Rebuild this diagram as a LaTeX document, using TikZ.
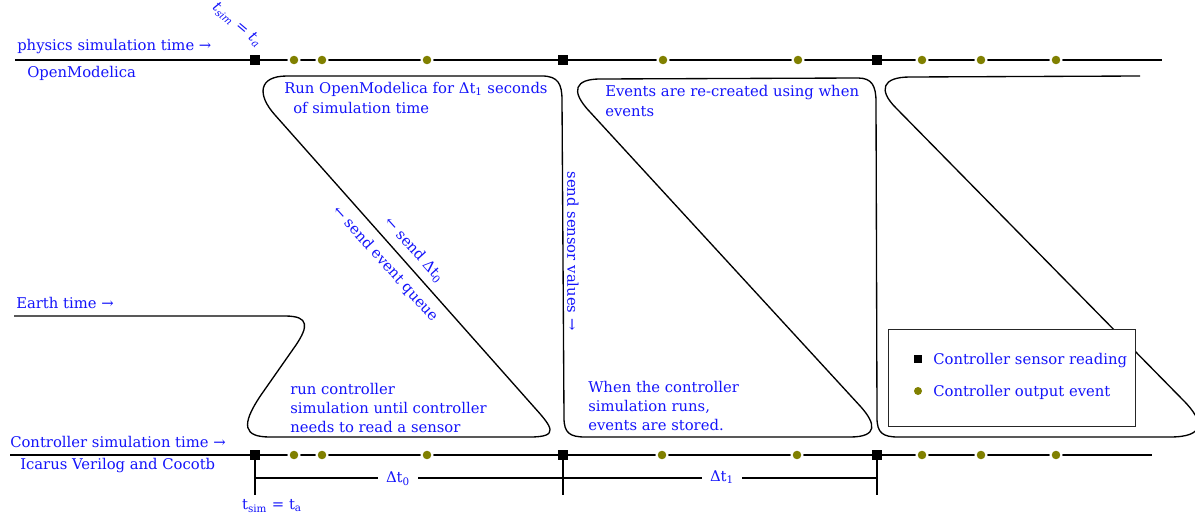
\documentclass[tikz,border=0pt]{standalone}
\usepackage{fontspec}
\setmainfont{DejaVu Serif}
\definecolor{txtblue}{RGB}{20,20,250}
\definecolor{evolive}{RGB}{128,128,0}
\begin{document}
\begin{tikzpicture}[x=0.75pt,y=-0.75pt,
  every node/.style={font=\fontsize{11.1}{13.9}\selectfont},
  lbl/.style={text=txtblue,inner sep=0pt,anchor=west},
  clbl/.style={text=txtblue,inner sep=0pt},
  timeline/.style={line width=2.2pt},
  sensor/.style={fill=black,draw=none,minimum size=7.5pt,inner sep=0pt,rectangle},
  evt/.style={circle,fill=evolive,draw=white,line width=1.5pt,minimum size=8.25pt,inner sep=0pt},
  legsensor/.style={fill=black,draw=none,minimum size=6pt,inner sep=0pt,rectangle},
  legevt/.style={circle,fill=evolive,draw=none,minimum size=6pt,inner sep=0pt},
  curve/.style={line width=1pt,line join=round},
  thinline/.style={line width=0.8pt},
  dimlbl/.style={text=txtblue,fill=white,inner xsep=6pt,inner ysep=2pt},
  legendbox/.style={draw=black!85,fill=white,line width=0.8pt,inner sep=0pt,anchor=north west}
]
\useasboundingbox (0,0) rectangle (1195,517);

% timelines
\coordinate (tl) at (15,60); \coordinate (tr) at (1162,60);
\coordinate (bl) at (10,455); \coordinate (br) at (1152,455);
\draw[timeline] (tl) -- (tr);
\draw[timeline] (bl) -- (br);

% ticks and dimension line (below controller line)
\coordinate (k1) at (255,495); \coordinate (k2) at (563,495); \coordinate (k3) at (877,495);
\coordinate (m0) at (255,478); \coordinate (m1) at (877,478);
\coordinate (j1) at (255,455); \coordinate (j2) at (563,455); \coordinate (j3) at (877,455);
\draw[thinline] (j1) -- (k1);
\draw[thinline] (j2) -- (k2);
\draw[thinline] (j3) -- (k3);
\draw[thinline] (m0) -- (m1);
\node[dimlbl] (dt0) at (398,479) {Δt\textsubscript{0}};
\node[dimlbl] (dt1) at (722,477) {Δt\textsubscript{1}};

% sensor readings
\foreach \x/\n in {255/1,563/2,877/3} {
  \node[sensor] (st\n) at (\x,60) {};
  \node[sensor] (sb\n) at (\x,455) {};
}
% output events
\foreach \x/\n in {294/1,322/2,427/3,663/4,798/5,922/6,981/7,1056/8} {
  \node[evt] (et\n) at (\x,60) {};
}
\foreach \x/\n in {294/1,322/2,427/3,662/4,797/5,922/6,981/7,1056/8} {
  \node[evt] (eb\n) at (\x,455) {};
}

% Earth time curve
\coordinate (e0) at (14,316);
\coordinate (e1) at (1140,76);
\draw[curve] (e0) -- (285,316)
  .. controls (310,316) and (308,327) .. (296,345)
  -- (261,395)
  .. controls (240,426) and (244,437) .. (270,437)
  -- (530,437)
  .. controls (560,437) and (552,427) .. (534,407)
  -- (275,115)
  .. controls (257,95) and (258,76) .. (287,76)
  -- (542,76)
  .. controls (558,76) and (562,84) .. (562,100)
  -- (564,418)
  .. controls (564,433) and (570,437) .. (585,437)
  -- (850,437)
  .. controls (878,437) and (876,424) .. (861,407)
  -- (590,112)
  .. controls (569,90) and (576,79) .. (600,79)
  -- (858,78)
  .. controls (872,78) and (876,86) .. (876,102)
  -- (877,418)
  .. controls (877,433) and (883,437) .. (898,437)
  -- (1170,437)
  .. controls (1205,437) and (1205,422) .. (1183,400)
  -- (896,108)
  .. controls (878,90) and (882,77) .. (910,77)
  -- (e1);

% legend
\node[legendbox,minimum width=185.25pt,minimum height=72.75pt] (legend) at (888,329) {};
\node[legsensor] (ls) at (918,359) {};
\node[legevt] (le) at (918,391) {};
\node[lbl] (lst) at (933,361) {Controller sensor reading};
\node[lbl] (let) at (933,392) {Controller output event};

% axis labels
\node[lbl] (phys) at (17,47) {physics simulation time →};
\node[lbl] (om) at (27,73) {OpenModelica};
\node[lbl] (earth) at (16,303) {Earth time →};
\node[lbl] (ctrl) at (10,442) {Controller simulation time →};
\node[lbl] (icarus) at (20,466) {Icarus Verilog and Cocotb};
\node[clbl,rotate=-40] (tst) at (237,25) {\textit{t}\textsubscript{\textit{sim}} = \textit{t}\textsubscript{\textit{a}}};
\node[clbl] (tsb) at (272,506) {t\textsubscript{sim} = t\textsubscript{a}};

% step texts
\node[lbl] (run1) at (284,89) {Run OpenModelica for Δt\textsubscript{1} seconds};
\node[lbl] (run2) at (293,108) {of simulation time};
\node[lbl] (ev1) at (605,93) {Events are re-created using when};
\node[lbl] (ev2) at (605,112) {events};
\node[clbl,rotate=-90] (ssv) at (573,251) {send sensor values →};
\node[clbl,rotate=-48] (sdt) at (414,250) {← send Δt\textsubscript{0}};
\node[clbl,rotate=-48] (seq) at (385,264) {← send event queue};
\node[lbl,align=left] (rc) at (290,408) {run controller\\simulation until controller\\needs to read a sensor};
\node[lbl,align=left] (wc) at (588,406) {When the controller\\simulation runs,\\events are stored.};
\end{tikzpicture}
\end{document}
